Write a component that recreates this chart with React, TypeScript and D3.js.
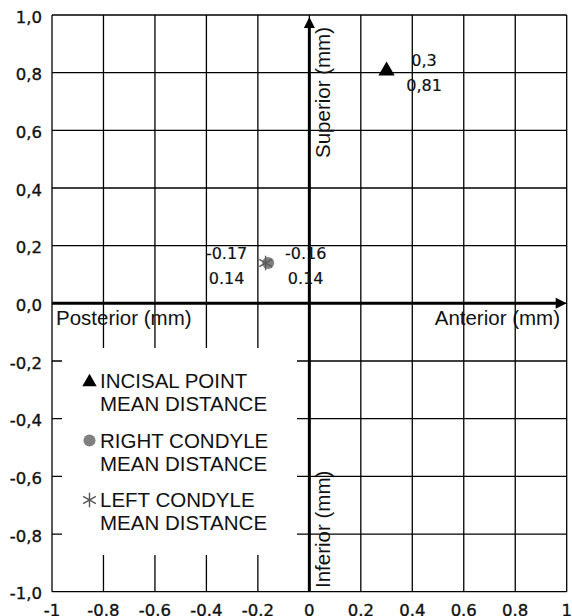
import React from 'react';
import { scaleLinear, symbol, symbolTriangle, symbolCircle, symbolAsterisk } from 'd3';

// axis ticks
const xTicks = [-1, -0.8, -0.6, -0.4, -0.2, 0, 0.2, 0.4, 0.6, 0.8, 1];
const xTickLabels = ['-1', '-0.8', '-0.6', '-0.4', '-0.2', '0', '0.2', '0.4', '0.6', '0.8', '1'];
const yTicks = [1, 0.8, 0.6, 0.4, 0.2, 0, -0.2, -0.4, -0.6, -0.8, -1];
const yTickLabels = ['1,0', '0,8', '0,6', '0,4', '0,2', '0,0', '-0,2', '-0,4', '-0,6', '-0,8', '-1,0'];

// series
const seriesNames = [
  ['INCISAL POINT', 'MEAN DISTANCE'],
  ['RIGHT CONDYLE', 'MEAN DISTANCE'],
  ['LEFT CONDYLE', 'MEAN DISTANCE']
];
const seriesX = [0.3, -0.16, -0.17];
const seriesY = [0.81, 0.14, 0.14];
const pointLabels = [
  ['0,3', '0,81'],
  ['-0.16', '0.14'],
  ['-0.17', '0.14']
];
const labelSide = ['right', 'right', 'left'];

const W = 572;
const H = 616;
const plot = { left: 52, right: 566.7, top: 15, bottom: 591.7 };
const legendBox = { x: 62, y: 348, w: 235, h: 207 };

const tickFont = '"DejaVu Sans", Verdana, sans-serif';
const textFont = '"Liberation Sans", Arial, sans-serif';

function Marker({ i, x, y, big }: { i: number; x: number; y: number; big: boolean }) {
  if (i === 0) {
    const d = symbol(symbolTriangle, big ? 115 : 90)();
    return <path d={d} transform={`translate(${x},${y + 1})`} fill="#000" />;
  }
  if (i === 1) {
    const d = symbol(symbolCircle, 115)();
    return <path d={d} transform={`translate(${x},${y})`} fill="#808080" />;
  }
  const d = symbol(symbolAsterisk, 150)();
  return (
    <path d={d} transform={`translate(${x},${y})`} fill="none" stroke={big ? '#5a5a5a' : '#555'} strokeWidth={1.4} />
  );
}

export default function App() {
  const x = scaleLinear().domain([-1, 1]).range([plot.left, plot.right]);
  const y = scaleLinear().domain([-1, 1]).range([plot.bottom, plot.top]);
  const x0 = x(0);
  const y0 = y(0);

  return (
    <div>
      <style>{`body{margin:0}`}</style>
      <svg width={W} height={H} style={{ display: 'block', background: '#fff' }}>
        {/* grid */}
        <g stroke="#000" strokeWidth={1.3}>
          {xTicks.map(t => (
            <line key={'gx' + t} x1={x(t)} x2={x(t)} y1={plot.top} y2={plot.bottom} />
          ))}
          {yTicks.map(t => (
            <line key={'gy' + t} x1={plot.left} x2={plot.right} y1={y(t)} y2={y(t)} />
          ))}
        </g>

        {/* legend box covers the grid */}
        <rect x={legendBox.x} y={legendBox.y} width={legendBox.w} height={legendBox.h} fill="#fff" />

        {/* main axes */}
        <g stroke="#000" strokeWidth={3}>
          <line x1={plot.left} x2={plot.right - 8} y1={y0} y2={y0} />
          <line x1={x0} x2={x0} y1={plot.bottom} y2={plot.top + 10} />
        </g>
        <path d={`M${plot.right},${y0} L${plot.right - 11},${y0 - 5.5} L${plot.right - 11},${y0 + 5.5} Z`} fill="#000" />
        <path d={`M${x0},${plot.top + 2} L${x0 - 5.5},${plot.top + 13} L${x0 + 5.5},${plot.top + 13} Z`} fill="#000" />

        {/* y tick labels */}
        <g fontFamily={tickFont} fontSize={16.5} fill="#111" stroke="#111" strokeWidth={0.35} textAnchor="end">
          {yTicks.map((t, i) => (
            <text key={'yl' + t} x={42} y={y(t) + 7.5}>
              {yTickLabels[i]}
            </text>
          ))}
        </g>
        {/* x tick labels (cut by the bottom edge as in the original) */}
        <g fontFamily={tickFont} fontSize={16.5} fill="#111" stroke="#111" strokeWidth={0.35} textAnchor="middle">
          {xTicks.map((t, i) => (
            <text key={'xl' + t} x={x(t)} y={616}>
              {xTickLabels[i]}
            </text>
          ))}
        </g>

        {/* axis titles */}
        <g fontFamily={textFont} fontSize={20.5} fill="#111">
          <text x={56} y={325}>Posterior (mm)</text>
          <text x={560} y={325} textAnchor="end">Anterior (mm)</text>
          <text transform={`translate(330,158) rotate(-90)`}>Superior (mm)</text>
          <text transform={`translate(330,588) rotate(-90)`}>Inferior (mm)</text>
        </g>

        {/* points */}
        {seriesX.map((v, i) => (
          <Marker key={'m' + i} i={i} x={x(v)} y={y(seriesY[i])} big={true} />
        ))}
        <g fontFamily={tickFont} fontSize={16} fill="#111" stroke="#111" strokeWidth={0.2} textAnchor="middle">
          {seriesX.map((v, i) => {
            const cx = x(v) + (labelSide[i] === 'right' ? 37.5 : -39);
            const cy = y(seriesY[i]);
            return (
              <g key={'pl' + i}>
                <text x={cx} y={cy - 4}>{pointLabels[i][0]}</text>
                <text x={cx} y={cy + 21}>{pointLabels[i][1]}</text>
              </g>
            );
          })}
        </g>

        {/* legend */}
        <g fontFamily={textFont} fontSize={20.5} fill="#111">
          {seriesNames.map((lines, i) => {
            const base = 388 + i * 59.5;
            return (
              <g key={'lg' + i}>
                <Marker i={i} x={89.5} y={base - 7} big={false} />
                <text x={100} y={base}>{lines[0]}</text>
                <text x={100} y={base + 23}>{lines[1]}</text>
              </g>
            );
          })}
        </g>
      </svg>
    </div>
  );
}
